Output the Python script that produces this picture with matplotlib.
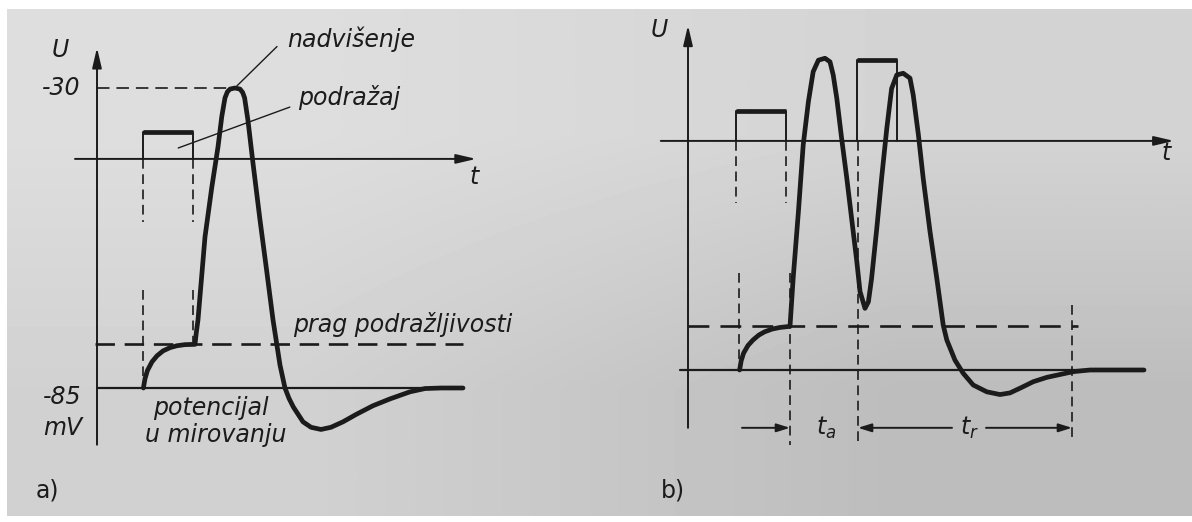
import numpy as np
import matplotlib.pyplot as plt

plt.rcParams['font.family'] = ['DejaVu Sans']
plt.rcParams['lines.scale_dashes'] = False
plt.rcParams['lines.solid_joinstyle'] = 'round'
plt.rcParams['lines.solid_capstyle'] = 'round'

INK = '#1b1b1b'

# razine (mV)
rest_mV = -85
peak_mV = -30
thr_mV = -77
stim_base = -43          # os podražaja (t)

# a) akcijski potencijal
a_t = [1.16, 1.2, 1.26, 1.375, 1.5, 1.65, 1.825, 2.0, 2.2, 2.45, 2.48, 2.525, 2.7, 2.87,
       3.025, 3.12, 3.2, 3.26, 3.325, 3.45, 3.575, 3.64, 3.69, 3.775, 3.9, 4.075, 4.24,
       4.4, 4.575, 4.7, 4.8, 4.91, 5.15, 5.35, 5.6, 5.85, 6.15, 6.49, 6.9, 7.325, 7.825,
       8.2, 8.6, 9.15]
a_U = [-85, -83.3, -81.8, -80.2, -79.1, -78.2, -77.6, -77.25, -77.05, -77.0, -75.0, -72.5,
       -57.3, -48.2, -40.8, -35.2, -31.8, -30.7, -30.2, -30.0, -30.2, -30.8, -31.8, -36.0,
       -43.8, -54.2, -63.4, -72.5, -80.8, -85.0, -86.9, -88.5, -91.2, -92.2, -92.6, -92.2,
       -91.2, -89.8, -88.25, -87.0, -85.7, -85.1, -85.0, -85.0]
a_stim = (1.16, 2.39, -38)        # pocetak, kraj, vrh

# b) dva podražaja
b_t = [1.29, 1.33, 1.39, 1.5, 1.625, 1.77, 1.915, 2.1, 2.3, 2.55, 2.63, 2.76, 2.88, 3.01,
       3.13, 3.26, 3.425, 3.55, 3.63, 3.72, 3.84, 3.97, 4.09, 4.22, 4.3, 4.425, 4.51,
       4.59, 4.72, 4.84, 4.97, 5.09, 5.22, 5.38, 5.55, 5.63, 5.76, 5.88, 6.05, 6.22,
       6.38, 6.47, 6.675, 6.88, 7.13, 7.47, 7.8, 8.05, 8.34, 8.63, 8.97, 9.38, 9.63,
       10.05, 11.4]
b_U = [-85, -83.3, -81.9, -80.5, -79.5, -78.6, -78.0, -77.5, -77.2, -77.0, -68.1, -56.0,
       -43.75, -35.8, -30.3, -28.2, -27.85, -28.5, -30.9, -35.2, -42.5, -49.85, -57.2,
       -65.1, -70.6, -73.7, -72.5, -68.2, -59.0, -49.85, -40.7, -33.4, -30.9, -30.6,
       -31.5, -34.55, -41.9, -49.85, -59.6, -68.2, -76.75, -79.5, -83.2, -85.6, -87.75,
       -89.0, -89.5, -89.2, -88.2, -87.15, -86.35, -85.7, -85.3, -85.0, -85.0]
b_stims = [(1.2, 2.45, -37.6), (4.22, 5.22, -28.2)]
b_on_low = 1.27       # isprekidane linije ispod krivulje
t_a = (2.55, 4.25)    # apsolutna refrakternost
t_r = (4.25, 9.6)     # relativna refrakternost

PX_T = 40.0            # px po jedinici vremena
PX_MV = 300.0 / 55.0   # px po mV
W, H = 1192, 522

fig = plt.figure(figsize=(W / 100, H / 100), dpi=100)
fig.patch.set_facecolor('white')

# papir (sivkasta pozadina skena)
bg = fig.add_axes([0, 0, 1, 1])
bg.set_xlim(0, 1)
bg.set_ylim(0, 1)
grad = np.array([[0.87, 0.83], [0.82, 0.74]])
bg.imshow(grad, cmap='gray', vmin=0, vmax=1, interpolation='bilinear', aspect='auto',
          extent=[7 / W, 1, 6 / H, 1 - 9 / H], origin='upper')
bg.axis('off')


def panel(left_px, width_px, axis_px, ref_U, ref_py):
    ax = fig.add_axes([left_px / W, 0, width_px / W, 1])
    ax.set_xlim((left_px - axis_px) / PX_T, (left_px + width_px - axis_px) / PX_T)
    ax.set_ylim(ref_U - (H - ref_py) / PX_MV, ref_U + ref_py / PX_MV)
    ax.axis('off')
    ax.patch.set_alpha(0)
    return ax


def axis_arrow(ax, x0, y0, x1, y1):
    ax.annotate('', xy=(x1, y1), xytext=(x0, y0),
                arrowprops=dict(arrowstyle='-|>,head_length=1.2,head_width=0.28',
                                lw=1.4, color=INK, shrinkA=0, shrinkB=0))


def stim(ax, t0, t1, top):
    ax.plot([t0, t0, t1, t1], [stim_base, top, top, stim_base], color=INK, lw=1.4)
    ax.plot([t0, t1], [top, top], color=INK, lw=3.4, solid_capstyle='butt')


def vdash(ax, t, u0, u1, lw=1.2):
    ax.plot([t, t], [u0, u1], color=INK, lw=lw, dashes=[7, 4])


txt = dict(color=INK, fontsize=17, style='italic')

# ---------------- a) ----------------
ax = panel(0, 596, 97, peak_mV, 88)
axis_arrow(ax, 0, -95.4, 0, -22.6)
axis_arrow(ax, -0.55, stim_base, 9.48, stim_base)
ax.plot([0, 9.15], [rest_mV, rest_mV], color=INK, lw=1.6)
ax.plot([0, 3.4], [peak_mV, peak_mV], color=INK, lw=1.2, dashes=[9, 5])
ax.plot([-0.05, 9.15], [thr_mV, thr_mV], color=INK, lw=1.9, dashes=[14, 7])
stim(ax, *a_stim)
vdash(ax, a_stim[0], stim_base, -54.6)
vdash(ax, a_stim[1], stim_base, -54.6)
vdash(ax, a_stim[0], -67, rest_mV)
vdash(ax, a_stim[1], -67, thr_mV)
ax.plot(a_t, a_U, color=INK, lw=3.4)

ax.text(-0.92, -23.0, 'U', ha='center', va='center', **txt)
ax.text(-0.42, peak_mV, '-30', ha='right', va='center', **txt)
ax.text(-0.38, -86.6, '-85', ha='right', va='center', **txt)
ax.text(-0.36, -92.4, 'mV', ha='right', va='center', **txt)
ax.text(9.44, -46.4, 't', ha='center', va='center', **txt)
ax.text(4.75, -22.5, 'nadvišenje', ha='left', va='baseline', **txt)
ax.text(5.03, -33.1, 'podražaj', ha='left', va='baseline', **txt)
ax.text(4.9, -74.7, 'prag podražljivosti', ha='left', va='baseline', **txt)
ax.text(1.4, -90.0, 'potencijal', ha='left', va='baseline', **txt)
ax.text(1.2, -94.9, 'u mirovanju', ha='left', va='baseline', **txt)
ax.text(-1.25, -103.8, 'a)', ha='center', va='center', color=INK, fontsize=17)
ax.plot([3.5, 4.5], [-29.6, -22.4], color=INK, lw=1.0)
ax.plot([2.03, 4.82], [-41.0, -33.5], color=INK, lw=1.0)

# ---------------- b) ----------------
ax = panel(596, 596, 688, rest_mV, 370)
axis_arrow(ax, 0, -95.6, 0, -21.8)
axis_arrow(ax, -0.68, stim_base, 12.15, stim_base)
ax.plot([-0.2, 11.4], [rest_mV, rest_mV], color=INK, lw=1.6)
ax.plot([0, 9.75], [thr_mV, thr_mV], color=INK, lw=1.9, dashes=[15, 8])
for s in b_stims:
    stim(ax, *s)
t1, t2, _ = b_stims[0]
vdash(ax, t1, stim_base, -54.4)
vdash(ax, t2, stim_base, -54.4)
vdash(ax, b_on_low, -67.2, rest_mV)
vdash(ax, t_a[0], -67.2, -98.8)
vdash(ax, t_r[0], stim_base, -98.8)
vdash(ax, t_r[1], -73.1, -97.8)
ax.plot(b_t, b_U, color=INK, lw=3.4)

y_arr = -95.6
hd = dict(arrowstyle='-|>,head_length=0.8,head_width=0.25', lw=1.4, color=INK,
          shrinkA=0, shrinkB=0)
ax.annotate('', xy=(t_a[0], y_arr), xytext=(1.35, y_arr), arrowprops=hd)
ax.annotate('', xy=(t_r[0], y_arr), xytext=(6.6, y_arr), arrowprops=hd)
ax.annotate('', xy=(t_r[1], y_arr), xytext=(7.45, y_arr), arrowprops=hd)
ax.text(3.45, y_arr, r'$t_a$', ha='center', va='center', color=INK, fontsize=17)
ax.text(7.03, y_arr, r'$t_r$', ha='center', va='center', color=INK, fontsize=17)

ax.text(-0.72, -22.7, 'U', ha='center', va='center', **txt)
ax.text(11.95, -45.2, 't', ha='center', va='center', **txt)
ax.text(-0.38, -107.0, 'b)', ha='center', va='center', color=INK, fontsize=17)

fig.savefig('out.png', dpi=100)
